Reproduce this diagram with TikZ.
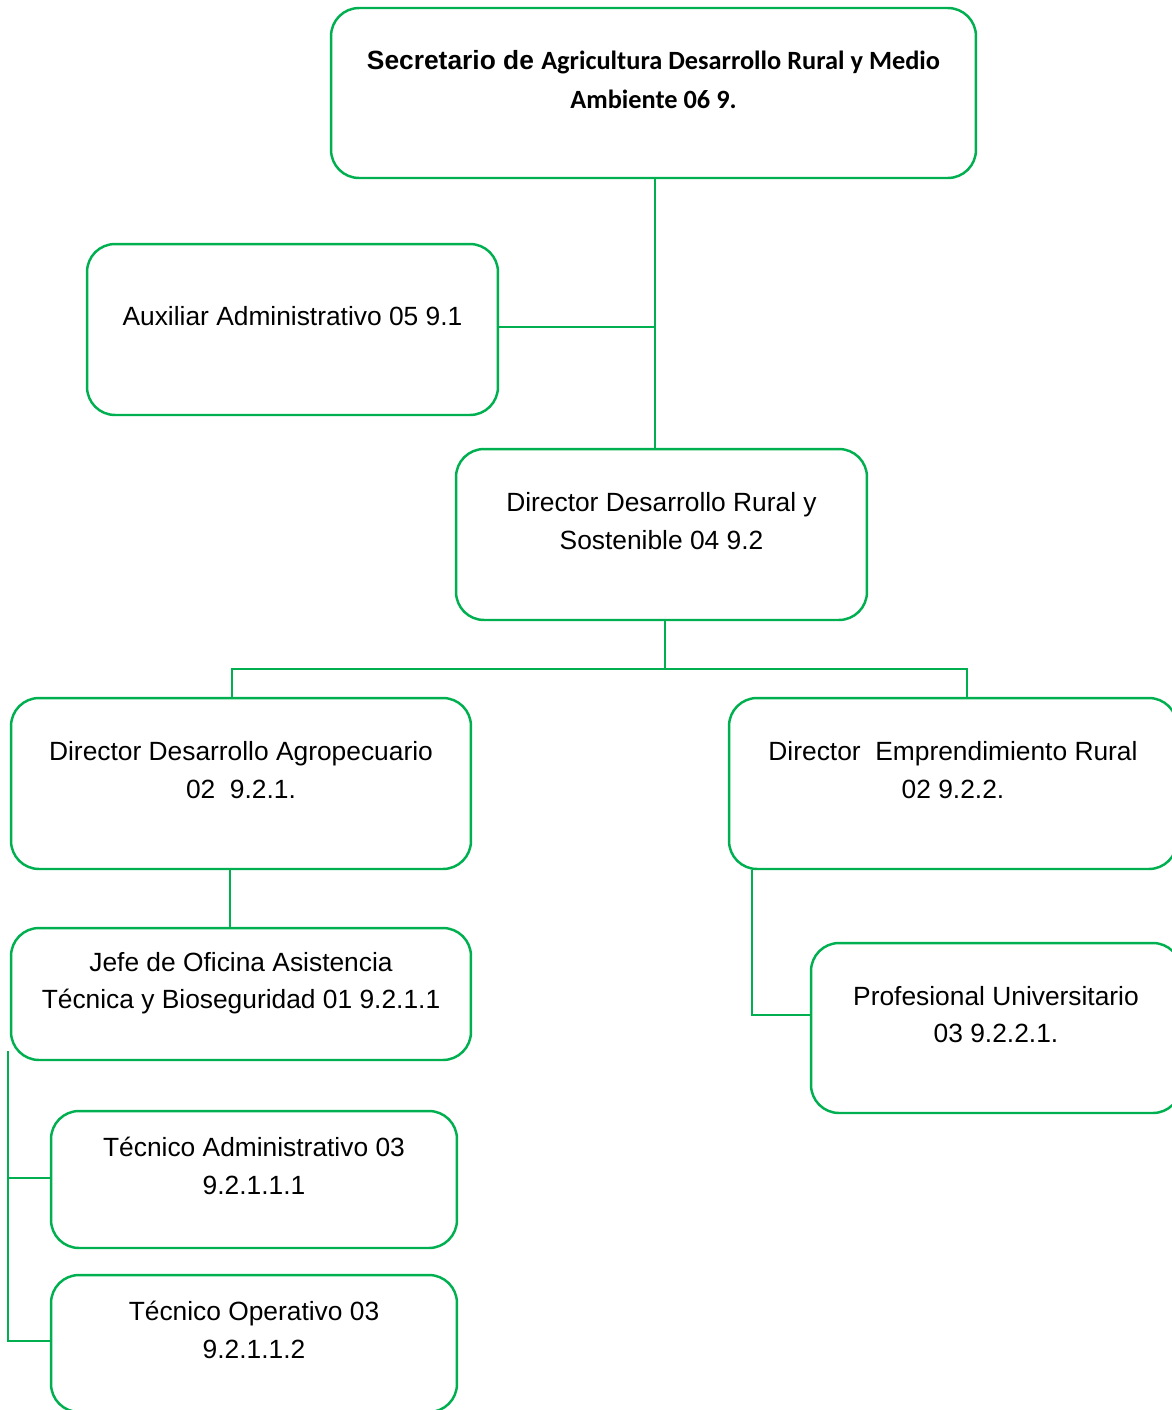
\documentclass[tikz,border=0pt]{standalone}
\usepackage{fontspec}
\setmainfont{Liberation Sans}
\newfontfamily\carlito{Carlito}
\usepackage{tikz}
\usetikzlibrary{positioning}
\definecolor{orggreen}{RGB}{0,176,80}
\tikzstyle{cargo} = [draw=orggreen, line width=1.4pt, rounded corners=0.56cm,
	align=center, text depth=0.54cm, inner sep=0pt,
	font=\fontsize{15}{21.5}\selectfont]
\tikzstyle{enlace} = [draw=orggreen, line width=1.3pt]

\begin{document}
\begin{tikzpicture}[x=0.02cm, y=-0.02cm]
				\useasboundingbox (0,0) rectangle (1172,1410);
				\clip (0,0) rectangle (1172,1410);
				
				\node [cargo, minimum width=12.9cm, minimum height=3.4cm,
					font=\fontsize{15}{22}\selectfont\bfseries] (secretario) at (653.5,93)
					{Secretario de {\carlito Agricultura Desarrollo Rural y Medio}\\
					{\carlito Ambiente 06 9.}};
				\node [cargo, minimum width=8.22cm, minimum height=3.42cm] (aux) at (292.5,329.5)
					{Auxiliar Administrativo 05 9.1};
				\node [cargo, minimum width=8.22cm, minimum height=3.42cm] (drs) at (661.5,534.5)
					{Director Desarrollo Rural y\\ Sostenible 04 9.2};
				
				\node [cargo, minimum width=9.2cm, minimum height=3.42cm] (da) at (241,783.5)
					{Director Desarrollo Agropecuario\\ 02\ \ 9.2.1.};
				\node [cargo, minimum width=8.96cm, minimum height=3.42cm] (er) at (953,783.5)
					{Director\ \ Emprendimiento Rural\\ 02 9.2.2.};
				
				\node [cargo, minimum width=9.2cm, minimum height=2.64cm] (jefe) at (241,994)
					{Jefe de Oficina Asistencia\\ T\'ecnica y Bioseguridad 01 9.2.1.1};
				\node [cargo, minimum width=7.4cm, minimum height=3.4cm] (prof) at (996,1028)
					{Profesional Universitario\\ 03 9.2.2.1.};
				
				\node [cargo, minimum width=8.12cm, minimum height=2.74cm] (tecadm) at (254,1179.5)
					{T\'ecnico Administrativo 03\\ 9.2.1.1.1};
				\node [cargo, minimum width=8.12cm, minimum height=2.74cm] (tecop) at (254,1343.5)
					{T\'ecnico Operativo 03\\ 9.2.1.1.2};
				
				% lineas
				\draw [enlace] ([xshift=0.03cm]secretario.south) coordinate (tronco) -- (tronco |- drs.north);
				\draw [enlace] ([yshift=0.05cm]aux.east) -- ([yshift=0.05cm]aux.east -| tronco);
				\draw [enlace] ([xshift=0.07cm]drs.south) -- ++(0,48) coordinate (bus);
				\draw [enlace] ([xshift=-0.18cm]da.north) |- (bus) -| ([xshift=0.28cm]er.north);
				\draw [enlace] ([xshift=-0.22cm]da.south) -- ([xshift=-0.22cm]jefe.north);
				\draw [enlace] ([xshift=0.48cm]er.south west) |- ([yshift=0.26cm]prof.west);
				\draw [enlace] ([shift={(-0.04cm,0.2cm)}]jefe.south west) coordinate (rama) |- ([yshift=0.05cm]tecop.west);
				\draw [enlace] ([yshift=0.03cm]tecadm.west) -- ([yshift=0.03cm]tecadm.west -| rama);
				
\end{tikzpicture}
\end{document}
